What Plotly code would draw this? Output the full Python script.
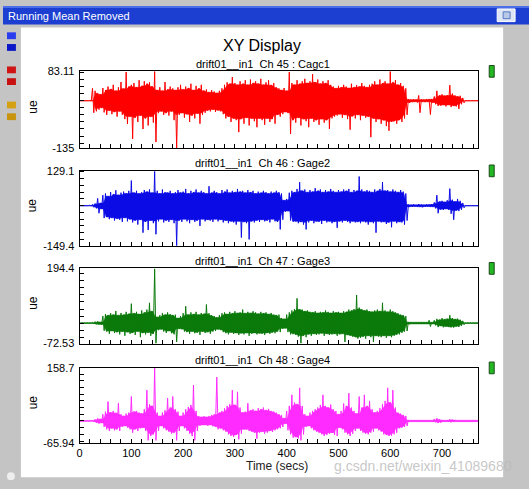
"""
XY Display - four strain gauge channels, running mean removed
"""
import numpy as np
import plotly.graph_objects as go

# envelope samples, one pair (peak / trough) every SAMPLE_STEP secs
SAMPLE_STEP = 5.0
X_RANGE = [0, 770]
X_TICK_STEP = 20
X_LABEL_STEP = 100

CHANNELS = [
    "drift01__in1  Ch 45 : Cagc1",
    "drift01__in1  Ch 46 : Gage2",
    "drift01__in1  Ch 47 : Gage3",
    "drift01__in1  Ch 48 : Gage4",
]
Y_MAX = [83.11, 129.1, 194.4, 158.7]
Y_MIN = [-135, -149.4, -72.53, -65.94]
Y_TOP_TEXT = ["83.11", "129.1", "194.4", "158.7"]
Y_BOTTOM_TEXT = ["-135", "-149.4", "-72.53", "-65.94"]
Y_TICK_STEP = [20, 25, 25, 20]
COLORS = ["#ff0000", "#0c0ce6", "#0b7a0b", "#ff2cff"]

gage1_hi = [0, 0, 0, 0, 1, 35, 28, 22, 18, 36,
            30, 40, 33, 45, 28, 38, 53, 34, 81, 40,
            45, 50, 38, 58, 42, 55, 48, 52, 40, 83,
            30, 38, 28, 53, 32, 40, 35, 30, 38, 45,
            32, 40, 36, 48, 30, 42, 35, 45, 28, 32,
            24, 30, 26, 22, 28, 35, 45, 52, 48, 67,
            50, 45, 55, 48, 58, 45, 60, 50, 55, 48,
            62, 45, 52, 58, 44, 50, 38, 35, 30, 36,
            28, 81, 50, 45, 58, 48, 55, 62, 50, 55,
            75, 52, 60, 48, 55, 50, 58, 45, 40, 35,
            42, 38, 45, 40, 36, 48, 38, 44, 40, 50,
            42, 38, 45, 48, 55, 45, 60, 50, 55, 48,
            83, 52, 58, 45, 50, 42, 35, 5, 3, 4,
            3, 15, 4, 3, 5, 4, 5, 12, 28, 15,
            18, 14, 16, 44, 20, 15, 12, 14, 8, 0,
            0, 0, 0, 0, 0]
gage1_lo = [0, 0, 0, 0, -1, -34, -30, -25, -20, -33,
            -40, -28, -38, -32, -45, -30, -40, -52, -66, -45,
            -108, -48, -60, -42, -80, -50, -70, -45, -62, -117,
            -35, -30, -40, -35, -42, -30, -55, -134, -40, -35,
            -48, -38, -60, -42, -50, -36, -65, -40, -34, -28,
            -30, -25, -32, -27, -30, -38, -50, -45, -60, -50,
            -55, -89, -52, -65, -48, -70, -50, -58, -75, -50,
            -55, -68, -50, -60, -52, -65, -40, -45, -38, -32,
            -35, -94, -55, -62, -48, -70, -52, -58, -75, -50,
            -60, -55, -68, -52, -62, -55, -80, -50, -45, -42,
            -38, -48, -40, -52, -82, -44, -50, -40, -55, -42,
            -48, -45, -103, -50, -60, -52, -65, -55, -72, -85,
            -60, -58, -65, -55, -60, -50, -40, -6, -4, -3,
            -5, -34, -3, -4, -3, -39, -5, -10, -15, -14,
            -12, -16, -12, -18, -14, -16, -23, -10, -6, 0,
            0, 0, 0, 0, 0]

gage2_hi = [0, 0, 0, 0, 2, 5, 8, 27, 10, 39,
            45, 35, 50, 42, 57, 40, 48, 52, 45, 55,
            93, 48, 55, 45, 50, 58, 52, 60, 48, 127,
            55, 45, 60, 50, 48, 55, 45, 50, 58, 48,
            52, 62, 45, 55, 50, 60, 48, 55, 50, 45,
            72, 48, 55, 50, 45, 58, 52, 60, 48, 55,
            50, 62, 52, 55, 48, 58, 50, 55, 45, 52,
            48, 55, 50, 45, 52, 48, 55, 50, 45, 20,
            25, 48, 55, 50, 62, 87, 55, 60, 50, 58,
            52, 65, 55, 60, 50, 58, 52, 62, 55, 50,
            58, 52, 60, 55, 62, 50, 58, 55, 108, 60,
            52, 58, 55, 50, 60, 55, 62, 87, 55, 58,
            52, 60, 55, 50, 58, 52, 45, 4, 3, 5,
            3, 6, 4, 3, 5, 4, 6, 12, 39, 15,
            18, 14, 20, 63, 22, 15, 25, 18, 10, 0,
            0, 0, 0, 0, 0]
gage2_lo = [0, 0, 0, 0, -2, -6, -10, -28, -12, -46,
            -42, -50, -45, -55, -48, -52, -60, -45, -58, -50,
            -62, -55, -70, -52, -100, -60, -90, -55, -65, -106,
            -58, -50, -62, -55, -60, -52, -65, -148, -55, -60,
            -50, -58, -65, -52, -60, -55, -75, -50, -58, -52,
            -55, -60, -50, -58, -52, -62, -55, -65, -58, -62,
            -70, -58, -118, -60, -65, -125, -58, -62, -55, -60,
            -52, -58, -55, -62, -50, -58, -60, -88, -52, -22,
            -20, -55, -60, -58, -65, -60, -70, -88, -62, -55,
            -65, -58, -60, -68, -55, -62, -58, -65, -60, -82,
            -58, -62, -55, -60, -65, -58, -62, -60, -65, -58,
            -62, -70, -60, -65, -100, -58, -62, -60, -68, -62,
            -80, -58, -65, -60, -62, -70, -55, -5, -4, -3,
            -5, -4, -6, -4, -3, -5, -4, -10, -28, -14,
            -16, -12, -15, -30, -52, -18, -20, -15, -8, 0,
            0, 0, 0, 0, 0]

gage3_hi = [1, 1, 1, 1, 1, 3, 5, 6, 4, 25,
            32, 28, 35, 30, 43, 28, 36, 30, 40, 33,
            69, 35, 40, 32, 45, 38, 48, 72, 42, 193,
            22, 28, 35, 30, 38, 32, 28, 30, 18, 25,
            35, 60, 30, 38, 32, 40, 30, 36, 33, 66,
            35, 28, 25, 20, 28, 35, 38, 32, 40, 35,
            42, 36, 38, 48, 35, 40, 36, 42, 38, 33,
            40, 35, 38, 32, 36, 30, 28, 30, 18, 15,
            30, 38, 45, 50, 88, 48, 48, 42, 45, 40,
            38, 42, 36, 40, 38, 45, 40, 36, 42, 38,
            40, 36, 42, 40, 48, 45, 50, 100, 55, 50,
            45, 48, 42, 40, 45, 48, 42, 72, 45, 40,
            48, 42, 38, 35, 30, 28, 25, 4, 3, 3,
            3, 3, 3, 3, 3, 10, 3, 10, 15, 12,
            18, 14, 16, 28, 18, 14, 16, 12, 8, 1,
            1, 1, 1, 1, 1]
gage3_lo = [-1, -1, -1, -1, -1, -3, -4, -5, -5, -27,
            -30, -38, -28, -35, -32, -40, -30, -45, -32, -38,
            -35, -42, -30, -50, -35, -40, -33, -45, -38, -72,
            -25, -22, -30, -35, -28, -36, -40, -67, -20, -22,
            -30, -32, -38, -30, -36, -33, -42, -30, -35, -32,
            -38, -30, -28, -22, -25, -32, -36, -40, -33, -38,
            -35, -42, -36, -40, -35, -45, -38, -35, -40, -36,
            -38, -42, -35, -38, -33, -36, -30, -32, -20, -18,
            -32, -40, -38, -42, -48, -72, -45, -50, -40, -45,
            -38, -42, -40, -36, -45, -38, -42, -40, -38, -45,
            -40, -38, -67, -42, -45, -48, -50, -55, -52, -48,
            -55, -45, -50, -67, -45, -48, -50, -45, -52, -45,
            -50, -45, -42, -40, -35, -30, -28, -4, -3, -3,
            -3, -3, -3, -3, -3, -12, -3, -8, -14, -10,
            -15, -12, -14, -15, -16, -12, -14, -10, -6, -1,
            -1, -1, -1, -1, -1]

gage4_hi = [1, 1, 1, 1, 1, 3, 5, 8, 6, 20,
            28, 58, 25, 30, 24, 53, 20, 15, 22, 25,
            73, 28, 30, 25, 22, 35, 92, 50, 45, 158,
            25, 15, 25, 32, 68, 40, 73, 35, 28, 15,
            25, 35, 42, 48, 107, 30, 15, 12, 14, 12,
            15, 18, 20, 131, 25, 30, 38, 45, 50, 92,
            48, 87, 40, 25, 28, 53, 32, 35, 30, 38,
            35, 40, 32, 36, 30, 28, 25, 20, 18, 8,
            30, 45, 78, 55, 50, 99, 45, 20, 15, 25,
            30, 35, 40, 48, 78, 45, 40, 49, 35, 30,
            20, 30, 52, 45, 83, 40, 30, 22, 73, 40,
            78, 45, 60, 35, 25, 30, 38, 50, 60, 99,
            55, 92, 40, 25, 22, 18, 15, 3, 2, 2,
            2, 2, 2, 2, 2, 2, 2, 6, 8, 5,
            3, 2, 3, 5, 4, 3, 2, 2, 2, 2,
            2, 2, 2, 2, 2]
gage4_lo = [-1, -1, -1, -1, -1, -3, -5, -8, -6, -18,
            -25, -30, -22, -28, -25, -30, -18, -15, -20, -25,
            -35, -25, -30, -22, -20, -30, -58, -45, -40, -58,
            -30, -15, -22, -28, -32, -38, -35, -58, -30, -15,
            -22, -30, -38, -45, -58, -30, -14, -12, -12, -14,
            -12, -16, -18, -25, -22, -28, -32, -40, -45, -48,
            -42, -55, -38, -25, -25, -30, -32, -35, -53, -35,
            -32, -38, -35, -30, -33, -28, -25, -22, -18, -8,
            -28, -40, -50, -48, -52, -58, -40, -18, -15, -22,
            -28, -32, -35, -40, -45, -42, -38, -35, -42, -45,
            -20, -25, -35, -40, -45, -38, -30, -22, -30, -35,
            -38, -40, -35, -32, -22, -28, -32, -40, -42, -45,
            -44, -40, -35, -22, -20, -18, -15, -3, -2, -2,
            -2, -2, -2, -2, -2, -2, -2, -4, -6, -5,
            -3, -2, -2, -4, -3, -2, -2, -2, -2, -2,
            -2, -2, -2, -2, -2]

SERIES = [(gage1_hi, gage1_lo), (gage2_hi, gage2_lo),
          (gage3_hi, gage3_lo), (gage4_hi, gage4_lo)]

# window geometry (pixels)
W, H = 529, 489
PLOT_LEFT, PLOT_RIGHT = 77, 478
PANEL_TOP = [67, 169, 269, 371]
PANEL_BOTTOM = [146, 246, 346, 448]
FONT = "Liberation Sans, Arial, sans-serif"


def px(x):
    return x / W


def py(y):
    return 1 - y / H


def zigzag(hi, lo):
    """peak at each sample, trough half a step later -> dense trace"""
    t = np.arange(len(hi)) * SAMPLE_STEP
    x = np.empty(2 * len(hi))
    y = np.empty(2 * len(hi))
    x[0::2] = t
    x[1::2] = t + SAMPLE_STEP / 2
    y[0::2] = hi
    y[1::2] = lo
    return x, y


def core(hi, lo):
    """solid middle of the trace: smallest swing among neighbouring samples,
    so the single peaks still stick out of it"""
    h = np.asarray(hi, float)
    l = np.asarray(lo, float)
    h_in = np.minimum(h, np.minimum(np.roll(h, 1), np.roll(h, -1)))
    l_in = np.maximum(l, np.maximum(np.roll(l, 1), np.roll(l, -1)))
    t = np.arange(len(h)) * SAMPLE_STEP + SAMPLE_STEP / 4
    return np.concatenate([t, t[::-1]]), np.concatenate([h_in, l_in[::-1]])


def label(text, x, y, size, color="black", xanchor="center", **kw):
    return dict(text=text, x=px(x), y=py(y), xref="paper", yref="paper",
                xanchor=xanchor, yanchor="middle", showarrow=False,
                font=dict(family=FONT, size=size, color=color), **kw)


fig = go.Figure()
layout_axes = {}
annotations = []

x_ticks = np.arange(X_RANGE[0], X_RANGE[1] + 1, X_TICK_STEP)
x_text = [str(int(v)) if v % X_LABEL_STEP == 0 else "" for v in x_ticks]

for k, (hi, lo) in enumerate(SERIES):
    n = "" if k == 0 else str(k + 1)
    cx, cy = core(hi, lo)
    fig.add_trace(go.Scatter(
        x=cx, y=cy, mode="lines", fill="toself", fillcolor=COLORS[k],
        xaxis="x" + n, yaxis="y" + n,
        line=dict(color=COLORS[k], width=0.5, simplify=False),
        showlegend=False, hoverinfo="skip"
    ))
    x, y = zigzag(hi, lo)
    fig.add_trace(go.Scatter(
        x=x, y=y, mode="lines", xaxis="x" + n, yaxis="y" + n,
        line=dict(color=COLORS[k], width=1, simplify=False),
        showlegend=False, hoverinfo="skip"
    ))

    y_ticks = list(np.arange(np.ceil(Y_MIN[k] / Y_TICK_STEP[k]) * Y_TICK_STEP[k],
                             Y_MAX[k], Y_TICK_STEP[k]))
    y_vals = [Y_MIN[k]] + y_ticks + [Y_MAX[k]]
    y_text = [Y_BOTTOM_TEXT[k]] + [""] * len(y_ticks) + [Y_TOP_TEXT[k]]

    layout_axes["xaxis" + n] = dict(
        domain=[px(PLOT_LEFT), px(PLOT_RIGHT)], anchor="y" + n,
        range=X_RANGE, tickmode="array", tickvals=x_ticks,
        ticktext=x_text, showticklabels=(k == 3),
        ticks="inside", ticklen=4, tickcolor="black",
        showline=True, mirror=True, linecolor="black", linewidth=1,
        showgrid=False, zeroline=False,
        tickfont=dict(family=FONT, size=11, color="black")
    )
    layout_axes["yaxis" + n] = dict(
        domain=[py(PANEL_BOTTOM[k]), py(PANEL_TOP[k])], anchor="x" + n,
        range=[Y_MIN[k], Y_MAX[k]], tickmode="array", tickvals=y_vals,
        ticktext=y_text, ticks="inside", ticklen=4, tickcolor="black",
        showline=True, mirror=True, linecolor="black", linewidth=1,
        showgrid=False, zeroline=False, ticklabelstandoff=2,
        tickfont=dict(family=FONT, size=11, color="black")
    )

    annotations.append(label(CHANNELS[k], 261, PANEL_TOP[k] - 8, 11))
    annotations.append(label("ue", 30, (PANEL_TOP[k] + PANEL_BOTTOM[k]) / 2 - 3,
                             12, textangle=-90))

annotations += [
    label("XY Display", 260, 40, 16),
    label("g.csdn.net/weixin_41089680", 514, 472, 14,
          color="rgba(185,185,185,0.8)", xanchor="right"),
    label("Time (secs)", 276, 472, 12, color="#222222"),
    label("Running Mean Removed", 3, 10, 11, color="white", xanchor="left"),
]


def box(x0, y0, x1, y1, fill, line=None, layer="below"):
    return dict(type="rect", xref="paper", yref="paper",
                x0=px(x0), x1=px(x1), y0=py(y1), y1=py(y0),
                fillcolor=fill, layer=layer,
                line=dict(width=1 if line else 0, color=line or fill))


shapes = [
    box(18, 22, 503, 483, "white"),
    box(0, 0, W, 19, "#1c3fd2"),
    box(0, 0, W, 2, "#4a6ee8"),
    box(497, 3, 515, 16, "#dce6f6", "#ffffff"),
    box(503, 6, 510, 13, "#b8c8e8", "#5a78c0"),
    # colour keys on the left edge
    box(4, 27, 13, 34, "#2a3cf0"),
    box(4, 39, 13, 46, "#0a16c8"),
    box(4, 62, 13, 69, "#d01414"),
    box(4, 74, 13, 81, "#c81010"),
    box(4, 98, 13, 105, "#d4a014"),
    box(4, 110, 13, 117, "#c89410"),
]
# green status markers next to each panel
for top in PANEL_TOP:
    shapes.append(box(489, top - 6, 494, top + 6, "#22b822", "#1a4a1a"))
shapes.append(dict(type="circle", xref="paper", yref="paper",
                   x0=px(4), x1=px(12), y0=py(486), y1=py(478),
                   fillcolor="#eeeeee", line=dict(width=0), layer="below"))

fig.update_layout(
    width=W, height=H,
    margin=dict(l=0, r=0, t=0, b=0),
    paper_bgcolor="#c4c4c4",
    plot_bgcolor="white",
    showlegend=False,
    annotations=annotations,
    shapes=shapes,
    **layout_axes
)

fig.write_html("out.html", config={"displayModeBar": False},
               post_script="document.body.style.margin='0';")
